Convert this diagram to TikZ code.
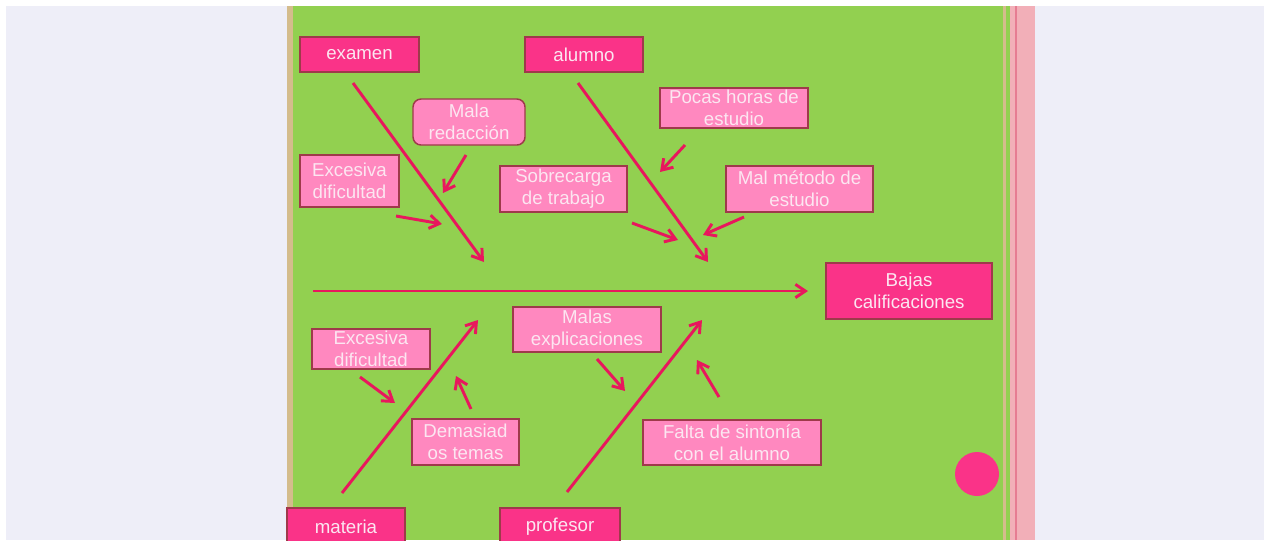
\documentclass[tikz,border=0pt]{standalone}
\usepackage{fontspec}
\setmainfont{Liberation Sans}
\usetikzlibrary{arrows.meta}
\definecolor{pagebg}{HTML}{EEEEF8}
\definecolor{slidegreen}{HTML}{92D050}
\definecolor{stripetan}{HTML}{D4BC8C}
\definecolor{stripepink}{HTML}{F2AFB8}
\definecolor{stripedark}{HTML}{E67C92}
\definecolor{catpink}{HTML}{FA3388}
\definecolor{causepink}{HTML}{FF88BF}
\definecolor{boxedge}{HTML}{9E3A4A}
\definecolor{boxtext}{HTML}{FCE6F1}
\definecolor{bonered}{HTML}{E8175D}
\tikzset{cat/.style={draw=boxedge, fill=catpink, line width=1.1pt,
  text=boxtext, align=center, inner sep=0pt,
  font=\fontsize{14}{16.3}\selectfont}}
\tikzset{cause/.style={cat, fill=causepink}}
\tikzset{bx/.style 2 args={minimum width=#1*0.75pt, minimum height=#2*0.75pt}}
\tikzset{bone/.style={draw=bonered, line width=2.2pt,
  -{Straight Barb[length=7.5pt,width=10pt,line width=2.2pt]}}}
\tikzset{twig/.style={bone}}

\begin{document}
\begin{tikzpicture}[x=0.75pt, y=-0.75pt]
      \useasboundingbox (0,0) rectangle (1270,540);
      % background and slide
      \fill [white] (0,0) rectangle (1270,540);
      \fill [pagebg] (6,6) rectangle (1264,540);
      \fill [slidegreen] (287,6) rectangle (1035,540);
      \fill [stripetan] (287,6) rectangle (293,540);
      \fill [stripetan] (1003,6) rectangle (1006,540);
      \fill [stripepink] (1010,6) rectangle (1035,540);
      \fill [stripedark] (1015,6) rectangle (1017,540);
      \fill [catpink] (977,474) circle (22);

      % categories and effect
      \node [cat, bx={119}{35}] (examen) at (359.5,54.5) {examen};
      \node [cat, bx={118}{35}] (alumno) at (584,54.5) {alumno};
      \node [cat, bx={118}{38}] (materia) at (346,527) {materia};
      \node [cat, bx={120}{38}] (profesor) at (560,527) {profesor};
      \node [cat, bx={166}{56}] (efecto) at (909,291) {Bajas\\calificaciones};

      % causes
      \node [cause, bx={112}{46}, rounded corners=6pt] (redaccion) at (469,122) {Mala\\redacción};
      \node [cause, bx={99}{52}] (dificultadA) at (349.5,181) {Excesiva\\dificultad};
      \node [cause, bx={148}{40}] (horas) at (734,108) {Pocas horas de\\estudio};
      \node [cause, bx={127}{46}] (sobrecarga) at (563.5,189) {Sobrecarga\\de trabajo};
      \node [cause, bx={147}{46}] (metodo) at (799.5,189) {Mal método de\\estudio};
      \node [cause, bx={118}{40}] (dificultadB) at (371,349) {Excesiva\\dificultad};
      \node [cause, bx={148}{45}] (explicaciones) at (587,329.5) {Malas\\explicaciones};
      \node [cause, bx={107}{46}] (temas) at (465.5,442) {Demasiad\\os temas};
      \node [cause, bx={178}{45}] (sintonia) at (732,442.5) {Falta de sintonía\\con el alumno};

      % bone ends
      \coordinate (s0) at (313,291);
      \coordinate (s1) at (808,291);
      \coordinate (e0) at (353,83);
      \coordinate (e1) at (484,262);
      \coordinate (a0) at (578,83);
      \coordinate (a1) at (708,262);
      \coordinate (m0) at (342,493);
      \coordinate (m1) at (478,320);
      \coordinate (p0) at (567,492);
      \coordinate (p1) at (702,320);

      % twig ends
      \coordinate (r0) at (466,155);
      \coordinate (r1) at (443,193);
      \coordinate (d0) at (396,216);
      \coordinate (d1) at (442,224);
      \coordinate (h0) at (685,145);
      \coordinate (h1) at (660,172);
      \coordinate (t0) at (632,223);
      \coordinate (t1) at (678,240);
      \coordinate (k0) at (744,217);
      \coordinate (k1) at (703,235);
      \coordinate (x0) at (360,377);
      \coordinate (x1) at (395,403);
      \coordinate (q0) at (471,409);
      \coordinate (q1) at (456,376);
      \coordinate (y0) at (597,359);
      \coordinate (y1) at (625,391);
      \coordinate (f0) at (719,397);
      \coordinate (f1) at (697,360);

      \draw [bone] (s0) -- (s1);
      \draw [bone] (e0) -- (e1);
      \draw [bone] (a0) -- (a1);
      \draw [bone] (m0) -- (m1);
      \draw [bone] (p0) -- (p1);
      \foreach \u/\v in {r0/r1, d0/d1, h0/h1, t0/t1, k0/k1, x0/x1, q0/q1, y0/y1, f0/f1}
        \draw [twig] (\u) -- (\v);
\end{tikzpicture}
\end{document}
